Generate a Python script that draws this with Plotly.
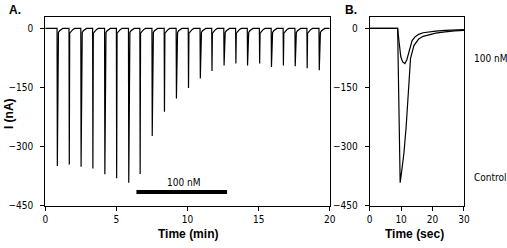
import plotly.graph_objects as go

# ---------------- data ----------------
# Panel A: repeated responses (onset time in min, peak current in nA)
spike_times = [0.83, 1.67, 2.50, 3.33, 4.17, 5.00, 5.85, 6.65, 7.50, 8.36, 9.20, 10.05,
               10.88, 11.70, 12.55, 13.38, 14.20, 15.05, 15.88, 16.72, 17.55, 18.39, 19.24]
spike_peaks = [-349, -345, -351, -355, -370, -380, -391, -369, -273, -211, -178, -151,
               -127, -108, -94, -89, -94, -89, -98, -94, -96, -101, -106]
# waveform of one response: offset (min), fraction of peak, tail (nA)
wave_dt = [0.0, 0.02, 0.05, 0.10, 0.18, 0.28, 0.40]
wave_frac = [0.0, 1.0, 0.0, 0.0, 0.0, 0.0, 0.0]
wave_tail = [0.0, 0.0, -12.0, -10.0, -6.0, -2.5, 0.0]
record_start, record_end = 0.0, 20.0
drug_bar_x = [6.41, 12.78]
drug_bar_y = [-415, -415]

# Panel B: single responses (sec, nA)
ctrl_t = [0, 8.9, 9.2, 9.5, 9.7, 10.3, 10.9, 11.6, 12.2, 12.5, 13.0, 14.1, 15.6, 17.0, 18.75, 21.0, 24.0, 27.0, 30.0]
ctrl_v = [0, 0, -150, -300, -391, -355, -316, -250, -175, -150, -76, -43, -27, -20, -16, -12, -9, -6, -5]
drug_t = [0, 8.9, 9.3, 9.9, 10.5, 11.2, 11.8, 12.55, 13.5, 14.5, 15.6, 17.0, 18.75, 21.0, 24.0, 27.0, 30.0]
drug_v = [0, 0, -30, -72, -85, -89, -80, -60, -31, -21, -15, -11, -9, -7, -5, -4, -3]

# --------------- build panel A trace ---------------
ax_t = [record_start]
ax_v = [0.0]
for t0, pk in zip(spike_times, spike_peaks):
    for dt, fr, tl in zip(wave_dt, wave_frac, wave_tail):
        ax_t.append(t0 + dt)
        ax_v.append(fr * pk + tl)
ax_t.append(record_end)
ax_v.append(0.0)

NARROW = "Liberation Sans Narrow, Arial Narrow, DejaVu Sans Condensed, sans-serif"
BOLD = "Liberation Sans, Arial, sans-serif"

fig = go.Figure()
fig.add_trace(go.Scatter(x=ax_t, y=ax_v, mode="lines", line=dict(color="black", width=1.2),
                         xaxis="x", yaxis="y", showlegend=False))
fig.add_trace(go.Scatter(x=drug_bar_x, y=drug_bar_y, mode="lines", line=dict(color="black", width=4),
                         xaxis="x", yaxis="y", showlegend=False))
fig.add_trace(go.Scatter(x=ctrl_t, y=ctrl_v, mode="lines", line=dict(color="black", width=1.2),
                         xaxis="x2", yaxis="y2", showlegend=False))
fig.add_trace(go.Scatter(x=drug_t, y=drug_v, mode="lines", line=dict(color="black", width=1.2),
                         xaxis="x2", yaxis="y2", showlegend=False))

W, H = 507, 248
top_px, bot_px = 17, 211
ydom = [1 - bot_px / H, 1 - top_px / H]

axis_common = dict(showline=True, linecolor="black", linewidth=1, mirror=True,
                   ticks="outside", ticklen=4, tickcolor="black", tickwidth=1,
                   showgrid=False, zeroline=False,
                   tickfont=dict(family=NARROW, size=10, color="black"))

fig.update_layout(
    width=W, height=H, margin=dict(l=0, r=0, t=0, b=0),
    paper_bgcolor="white", plot_bgcolor="white",
    xaxis=dict(domain=[43 / W, 332.7 / W], range=[0, 20], tickvals=[0, 5, 10, 15, 20],
               anchor="y", **axis_common),
    yaxis=dict(domain=ydom, range=[-450, 30], tickvals=[0, -150, -300, -450],
               anchor="x", ticklabelstandoff=5, **axis_common),
    xaxis2=dict(domain=[373.3 / W, 469.3 / W], range=[0, 30], tickvals=[0, 10, 20, 30],
                anchor="y2", **axis_common),
    yaxis2=dict(domain=ydom, range=[-450, 30], tickvals=[0, -150, -300, -450],
                anchor="x2", ticklabelstandoff=5, **axis_common),
)

def ann(text, x, y, size, family, bold=False, xanchor="center", textangle=0):
    fig.add_annotation(text=f"<b>{text}</b>" if bold else text, x=x / W, y=1 - y / H,
                       xref="paper", yref="paper", showarrow=False, xanchor=xanchor,
                       yanchor="middle", textangle=textangle,
                       font=dict(family=family, size=size, color="black"))

ann("A.", 4, 10, 12, BOLD, bold=True, xanchor="left")
ann("B.", 346, 10, 12, BOLD, bold=True, xanchor="left")
ann("Time (min)", 188, 239.5, 12, BOLD, bold=True)
ann("Time (sec)", 419, 239.5, 12, BOLD, bold=True)
ann("I (nA)", 6, 116, 12, BOLD, bold=True, textangle=-90)
ann("100 nM", 184, 187, 10, NARROW)
ann("100 nM", 477, 60, 10, NARROW, xanchor="left")
ann("Control", 477, 182, 10, NARROW, xanchor="left")

fig.write_html("out.html")
